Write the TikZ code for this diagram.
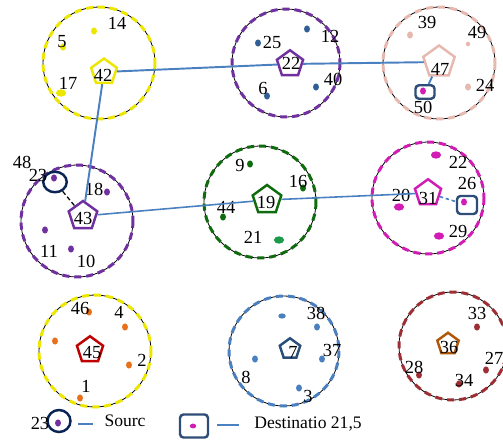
\documentclass[tikz,border=0pt]{standalone}
\usepackage{fontspec}
\setmainfont{Liberation Serif}
\usetikzlibrary{shapes.geometric}
\definecolor{ycol}{HTML}{ECE600}
\definecolor{pcol}{HTML}{7030A0}
\definecolor{pink}{HTML}{E6B8B0}
\definecolor{gcol}{HTML}{0E6B0E}
\definecolor{gbright}{HTML}{1A9A4A}
\definecolor{mcol}{HTML}{D21DB4}
\definecolor{ndot}{HTML}{2F5F95}
\definecolor{rcol}{HTML}{C00000}
\definecolor{ocol}{HTML}{E8701A}
\definecolor{bcol}{HTML}{4A7FC0}
\definecolor{navyseven}{HTML}{2A4E7A}
\definecolor{brn}{HTML}{B0580A}
\definecolor{maroon}{HTML}{9E2E34}
\definecolor{dest}{HTML}{2E4D78}
\definecolor{src}{HTML}{0B2456}
\tikzset{
  clbg/.style={draw=black, line width=0.45pt},
  clfg/.style={line width=1.7pt, dash pattern=on 4pt off 2.8pt},
  dot/.style={ellipse, fill, inner sep=0pt, minimum width=3.4pt, minimum height=4pt},
  bigdot/.style={ellipse, fill, inner sep=0pt, minimum width=5.8pt, minimum height=4.2pt},
  ch/.style={regular polygon, regular polygon sides=5, draw, line width=1.4pt, inner sep=0pt},
  lbl/.style={inner sep=0pt, font=\fontsize{10.5}{12}\selectfont},
  conn/.style={draw=bcol, line width=1.1pt},
  destbox/.style={draw=dest, rectangle, rounded corners=2pt, line width=1.4pt, inner sep=0pt},
  srcbox/.style={draw=src, ellipse, line width=1.4pt, inner sep=0pt},
}
\begin{document}
\begin{tikzpicture}[x=0.02cm, y=-0.02cm]
\useasboundingbox (0,0) rectangle (503,439);
% ---------- cluster circles ----------
\foreach \cx/\cy/\r/\col in {99/63/56/ycol, 286/63/54/pcol, 439/63/56/pink, 77/221/56/pcol, 260/202/56/gcol, 428/198/56/mcol, 95/351/56/ycol, 284/351/55/bcol, 453/346/54/maroon}{
  \draw[clbg] (\cx,\cy) circle[radius=\r];
  \draw[clfg, draw=\col] (\cx,\cy) circle[radius=\r];
}
% ---------- cluster 1 (yellow) ----------
\node[ch, draw=ycol, minimum size=0.54cm] (c42) at (104,72) {};
\node[lbl] (t42) at (103,75) {42};
\node[dot, ycol] (n14) at (94,31) {};
\node[lbl] (t14) at (117,23) {14};
\node[dot, ycol] (n5) at (63,47) {};
\node[lbl] (t5) at (62,42) {5};
\node[bigdot, ycol] (n17) at (61,93) {};
\node[lbl] (t17) at (68,83) {17};
% ---------- cluster 2 (purple, top) ----------
\node[ch, draw=pcol, minimum size=0.55cm] (c22) at (290,64) {};
\node[lbl] (t22) at (291,63) {22};
\node[dot, ndot] (n25) at (258,43) {};
\node[lbl] (t25) at (272,42) {25};
\node[dot, ndot] (n12) at (307,29) {};
\node[lbl] (t12) at (330,36) {12};
\node[dot, ndot] (n6) at (267,96) {};
\node[lbl] (t6) at (263,88) {6};
\node[dot, ndot] (n40) at (316,87) {};
\node[lbl] (t40) at (333,79) {40};
% ---------- cluster 3 (pink) ----------
\node[ch, draw=pink, minimum size=0.66cm] (c47) at (439,62) {};
\node[lbl] (t47) at (440,69) {47};
\node[dot, pink] (n39) at (410,35) {};
\node[lbl] (t39) at (427,22) {39};
\node[dot, pink, minimum width=2.4pt, minimum height=2.8pt] (n49) at (468,44) {};
\node[lbl] (t49) at (477,32) {49};
\node[dot, pink] (n24) at (468,87) {};
\node[lbl] (t24) at (485,85) {24};
\node[destbox, minimum width=0.38cm, minimum height=0.27cm] (d50) at (425,92) {};
\node[dot, mcol] (n50) at (423,91) {};
\node[lbl] (t50) at (423,107) {50};
% ---------- cluster 4 (purple, middle left) ----------
\node[ch, draw=pcol, minimum size=0.6cm] (c43) at (83,216) {};
\node[lbl] (t43) at (83,218) {43};
\node[srcbox, minimum width=0.47cm, minimum height=0.41cm] (s23) at (55,182) {};
\node[dot, pcol] (n23) at (54,178) {};
\node[lbl] (t23) at (38,175) {23};
\node[lbl] (t48) at (22,162) {48};
\node[dot, pcol] (n18) at (107,192) {};
\node[lbl] (t18) at (94,189) {18};
\node[dot, pcol] (n11) at (45,230) {};
\node[lbl] (t11) at (49,251) {11};
\node[dot, pcol] (n10) at (71,249) {};
\node[lbl] (t10) at (86,261) {10};
% ---------- cluster 5 (green) ----------
\node[ch, draw=gcol, minimum size=0.6cm] (c19) at (267,200) {};
\node[lbl] (t19) at (266,202) {19};
\node[dot, gcol] (n9) at (250,164) {};
\node[lbl] (t9) at (240,165) {9};
\node[dot, gcol] (n16) at (303,188) {};
\node[lbl] (t16) at (298,181) {16};
\node[dot, gcol] (n44) at (223,217) {};
\node[lbl] (t44) at (226,207) {44};
\node[bigdot, gbright] (n21) at (279,240) {};
\node[lbl] (t21) at (253,237) {21};
% ---------- cluster 6 (magenta) ----------
\node[ch, draw=mcol, minimum size=0.55cm] (c31) at (428,193) {};
\node[lbl] (t31) at (428,198) {31};
\node[bigdot, mcol] (n22) at (436,155) {};
\node[lbl] (t22b) at (458,162) {22};
\node[destbox, minimum width=0.4cm, minimum height=0.36cm] (d26) at (467,205) {};
\node[dot, mcol] (n26) at (464,202) {};
\node[lbl] (t26) at (467,183) {26};
\node[bigdot, mcol] (n20) at (399,207) {};
\node[lbl] (t20) at (401,195) {20};
\node[bigdot, mcol] (n29) at (439,236) {};
\node[lbl] (t29) at (458,231) {29};
% ---------- cluster 7 (yellow / orange) ----------
\node[ch, draw=rcol, minimum size=0.55cm] (c45) at (90,350) {};
\node[lbl] (t45) at (92,353) {45};
\node[dot, ocol] (n46) at (89,312) {};
\node[lbl] (t46) at (80,308) {46};
\node[dot, ocol] (n4) at (125,327) {};
\node[lbl] (t4) at (119,312) {4};
\node[dot, ocol] (n2) at (129,365) {};
\node[lbl] (t2) at (142,360) {2};
\node[dot, ocol] (n1) at (80,398) {};
\node[lbl] (t1) at (86,386) {1};
\node[dot, ocol] (n0) at (55,341) {};
% ---------- cluster 8 (blue) ----------
\node[ch, draw=navyseven, minimum size=0.43cm] (c7) at (290,349) {};
\node[lbl] (t7) at (293,352) {7};
\node[dot, bcol] (n38) at (317,327) {};
\node[lbl] (t38) at (316,313) {38};
\node[dot, bcol] (n37) at (322,359) {};
\node[lbl] (t37) at (332,350) {37};
\node[dot, bcol] (n8) at (255,359) {};
\node[lbl] (t8) at (246,377) {8};
\node[dot, bcol] (n3) at (299,388) {};
\node[lbl] (t3) at (308,396) {3};
\node[dot, bcol, minimum width=4.2pt, minimum height=3pt] (nx) at (282,316) {};
% ---------- cluster 9 (maroon) ----------
\node[ch, draw=brn, minimum size=0.45cm] (c36) at (448,344) {};
\node[lbl] (t36) at (449,347) {36};
\node[dot, maroon] (n33) at (477,327) {};
\node[lbl] (t33) at (477,313) {33};
\node[dot, maroon] (n27) at (486,370) {};
\node[lbl] (t27) at (494,358) {27};
\node[dot, maroon] (n28) at (419,375) {};
\node[lbl] (t28) at (414,367) {28};
\node[dot, maroon] (n34) at (459,384) {};
\node[lbl] (t34) at (464,380) {34};
% ---------- connectors ----------
\draw[conn] (c42) -- (c22);
\draw[conn] (c22) -- (c47);
\draw[conn] (c47) -- (d50);
\draw[conn] (c42) -- (c43);
\draw[conn, line width=0.9pt] (c43) -- (c19);
\draw[conn, line width=0.9pt] (c19) -- (c31);
\draw[conn, line width=0.9pt, dash pattern=on 2pt off 1.5pt] (c31) -- (d26);
\draw[black, line width=0.7pt, dash pattern=on 2.5pt off 1.5pt] (s23) -- (c43);
% ---------- legend ----------
\node[srcbox, minimum width=0.46cm, minimum height=0.44cm] (ls) at (59,421) {};
\node[dot, pcol] (lsd) at (58,423) {};
\node[lbl] (lt23) at (40,423) {23};
\coordinate (la1) at (78,424);
\coordinate (la2) at (93,424);
\draw[conn] (la1) -- (la2);
\node[lbl, font=\fontsize{10}{12}\selectfont] (lsrc) at (125,421) {Sourc};
\node[destbox, minimum width=0.56cm, minimum height=0.46cm] (ld) at (194,426) {};
\node[dot, mcol, minimum width=3.6pt, minimum height=2.8pt] (ldd) at (193,426) {};
\coordinate (lb1) at (217,425);
\coordinate (lb2) at (239,425);
\draw[conn] (lb1) -- (lb2);
\node[lbl, font=\fontsize{10}{12}\selectfont] (ldst) at (308,424) {Destinatio 21,5};
\end{tikzpicture}
\end{document}
